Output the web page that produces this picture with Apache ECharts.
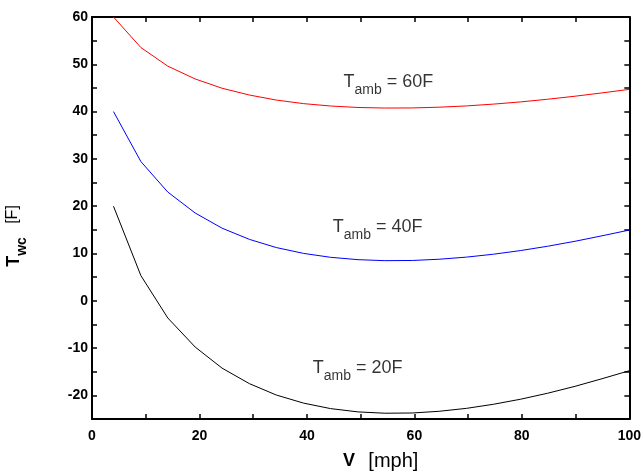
<!DOCTYPE html>
<html>
<head>
<meta charset="utf-8">
<script src="https://cdn.jsdelivr.net/npm/echarts@6/dist/echarts.min.js"></script>
<style>html,body{margin:0;padding:0;background:#fff}#c{width:644px;height:471px}</style>
</head>
<body>
<div id="c"></div>
<script>
// Wind speed V [mph]
var speeds = [4, 9.1, 14.1, 19.2, 24.2, 29.3, 34.3, 39.4, 44.4, 49.5, 54.5, 59.6, 64.6, 69.7, 74.7, 79.8, 84.8, 89.9, 94.9, 100];
// Wind chill temperature [F] for each ambient temperature
var twc60 = [60.0, 53.54, 49.61, 46.90, 44.94, 43.50, 42.44, 41.68, 41.18, 40.87, 40.75, 40.77, 40.93, 41.20, 41.58, 42.05, 42.61, 43.25, 43.95, 44.70];
var twc40 = [40.0, 29.43, 22.99, 18.56, 15.35, 12.98, 11.25, 10.01, 9.19, 8.69, 8.48, 8.52, 8.78, 9.23, 9.84, 10.62, 11.53, 12.58, 13.73, 14.95];
var twc20 = [20.0, 5.31, -3.63, -9.78, -14.24, -17.53, -19.93, -21.65, -22.80, -23.50, -23.78, -23.73, -23.37, -22.75, -21.89, -20.81, -19.55, -18.09, -16.49, -14.79];
// Curve annotations: [V, T] anchor and ambient temperature
var labelTemps = ['60', '40', '20'];
var labelPos = [[46.8, 46.2], [44.8, 15.6], [41.1, -14.3]];
var xTicks = [0, 20, 40, 60, 80, 100];
var yTicks = [-20, -10, 0, 10, 20, 30, 40, 50, 60];

function pairs(xs, ys) { return xs.map(function (x, i) { return [x, ys[i]]; }); }

var chart = echarts.init(document.getElementById('c'), null, { renderer: 'canvas' });
var FONT = 'Liberation Sans, Arial, sans-serif';
var axisLine = { show: true, onZero: false, lineStyle: { color: '#000', width: 2 } };
var tick = { show: true, inside: true, length: 5, lineStyle: { color: '#000', width: 1.5 } };

var xBase = {
  type: 'value', min: 0, max: 100, interval: 10,
  axisLine: axisLine, axisTick: tick, splitLine: { show: false }
};
var yBase = {
  type: 'value', min: -25, max: 60, interval: 5,
  axisLine: axisLine, axisTick: tick, splitLine: { show: false }
};

var lineStyleOf = function (c) { return { color: c, width: 1 }; };

chart.setOption({
  animation: false,
  backgroundColor: '#fff',
  grid: { left: 92, right: 14, top: 17, bottom: 52, containLabel: false },
  xAxis: [
    Object.assign({}, xBase, {
      position: 'bottom',
      axisLabel: {
        show: true, margin: 10, color: '#000', fontFamily: FONT, fontWeight: 'bold', fontSize: 14,
        formatter: function (v) { return xTicks.indexOf(v) >= 0 ? String(v) : ''; }
      }
    }),
    Object.assign({}, xBase, { position: 'top', axisLabel: { show: false } })
  ],
  yAxis: [
    Object.assign({}, yBase, {
      position: 'left',
      axisLabel: {
        show: true, margin: 4, color: '#000', fontFamily: FONT, fontWeight: 'bold', fontSize: 14,
        formatter: function (v) { return yTicks.indexOf(v) >= 0 ? String(v) : ''; }
      }
    }),
    Object.assign({}, yBase, { position: 'right', axisLabel: { show: false } })
  ],
  series: [
    { type: 'line', data: pairs(speeds, twc60), showSymbol: false, symbol: 'none', lineStyle: lineStyleOf('#ff0000'), itemStyle: { color: '#ff0000' }, z: 3 },
    { type: 'line', data: pairs(speeds, twc40), showSymbol: false, symbol: 'none', lineStyle: lineStyleOf('#0000ff'), itemStyle: { color: '#0000ff' }, z: 3 },
    { type: 'line', data: pairs(speeds, twc20), showSymbol: false, symbol: 'none', lineStyle: lineStyleOf('#000000'), itemStyle: { color: '#000' }, z: 3 },
    {
      type: 'scatter', symbolSize: 0, silent: true,
      data: labelPos.map(function (p, i) { return { value: p, t: labelTemps[i] }; }),
      label: {
        show: true, position: 'right', distance: 0, color: '#000',
        formatter: function (p) { return '{m|T}{s|amb}{m| = ' + labelTemps[p.dataIndex] + 'F}'; },
        rich: {
          m: { fontFamily: FONT, fontSize: 18, color: '#000', lineHeight: 18, verticalAlign: 'top' },
          s: { fontFamily: FONT, fontSize: 14, color: '#000', lineHeight: 14, padding: [10, 0, 0, 0], verticalAlign: 'top' }
        }
      }
    }
  ],
  graphic: [
    {
      type: 'text', left: 343, top: 451,
      style: {
        text: '{b|V}    {n|[mph]}',
        rich: {
          b: { fontFamily: FONT, fontSize: 18, fontWeight: 'bold', fill: '#000' },
          n: { fontFamily: FONT, fontSize: 20, fill: '#000' }
        }
      }
    },
    {
      type: 'text', x: 14, y: 236, rotation: Math.PI / 2,
      style: {
        text: '{b|T}{s|wc}    {n|[F]}',
        align: 'center', verticalAlign: 'middle',
        rich: {
          b: { fontFamily: FONT, fontSize: 18, fontWeight: 'bold', fill: '#000', lineHeight: 18, verticalAlign: 'top' },
          s: { fontFamily: FONT, fontSize: 14, fontWeight: 'bold', fill: '#000', lineHeight: 14, padding: [10, 0, 0, 0], verticalAlign: 'top' },
          n: { fontFamily: FONT, fontSize: 16, fill: '#000', lineHeight: 18, verticalAlign: 'top' }
        }
      }
    }
  ]
});
</script>
</body>
</html>
